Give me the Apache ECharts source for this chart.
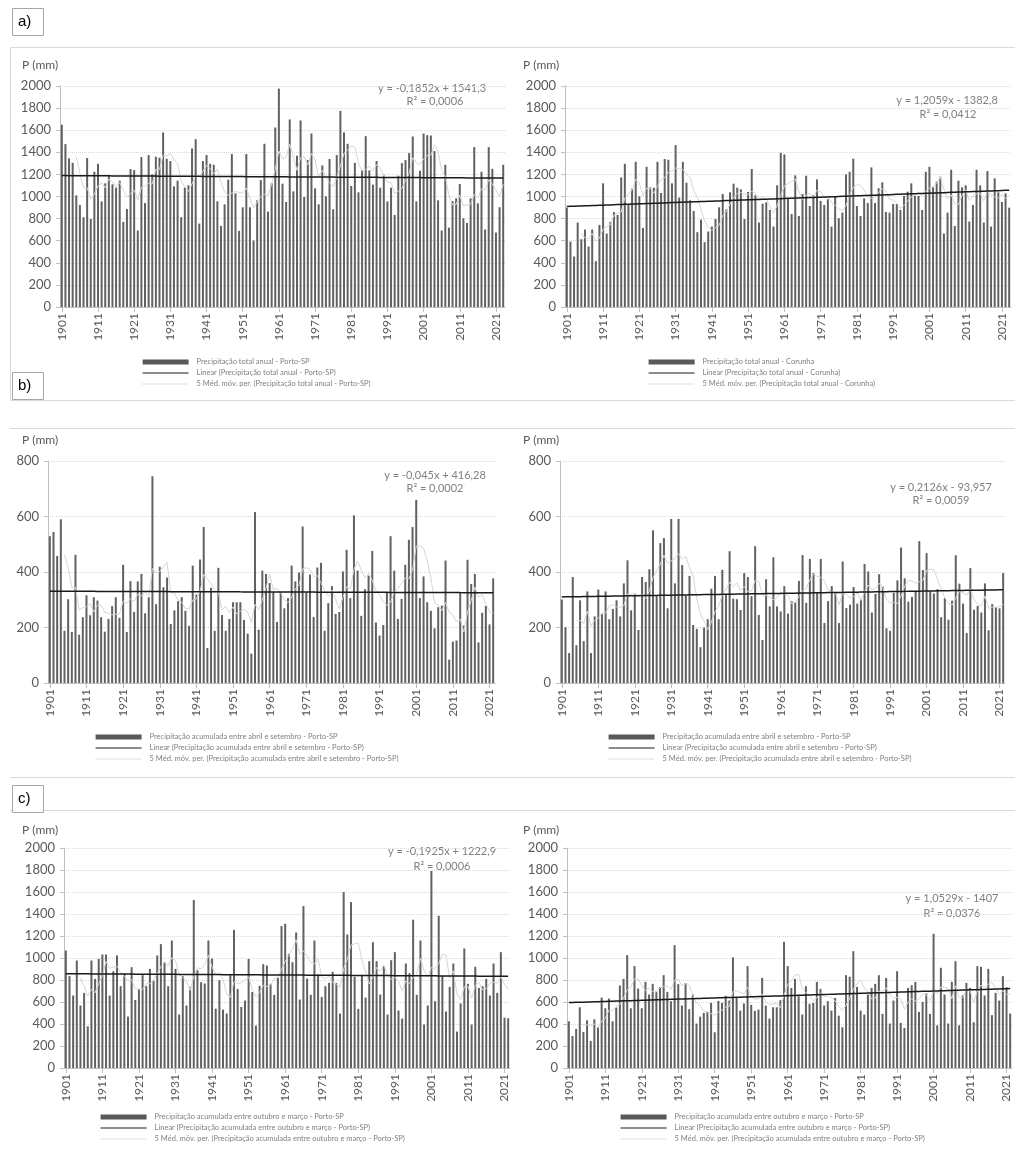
<!DOCTYPE html>
<html><head><meta charset="utf-8">
<script src="https://cdn.jsdelivr.net/npm/echarts@6/dist/echarts.min.js"></script>
<style>html,body{margin:0;padding:0;background:#fff}#c{width:1015px;height:1151px}</style>
</head><body><div id="c"></div>
<script>
// ---------- categories ----------
const yearsA = []; for (let y = 1901; y <= 2023; y++) yearsA.push(String(y));
const yearsB = []; for (let y = 1901; y <= 2022; y++) yearsB.push(String(y));

// ---------- series values (mm) ----------
const portoAnnual = [1650,1474,1345,1305,1010,923,812,1348,797,1224,1296,956,1119,1185,1110,1080,1143,770,887,1248,
1239,692,1357,941,1375,1200,1360,1351,1579,1342,1321,1092,1143,812,1080,1101,1435,1519,755,1321,
1375,1296,1287,956,734,929,1152,1384,1029,689,902,1384,902,602,965,1149,1477,863,1119,1624,
1976,1116,950,1697,1047,1369,1688,996,1330,1570,1074,929,1281,1002,1339,884,1375,1775,1579,1477,
1095,1305,1038,1239,1546,1236,1107,1321,1080,1191,956,1080,833,1188,1302,1330,1393,1543,956,1233,
1570,1555,1552,1411,965,692,1287,719,959,983,1113,803,761,983,1447,938,1224,701,1447,1251,
674,903,1287];
const corunhaAnnual = [899,592,457,764,614,701,547,701,415,743,1119,665,770,860,833,1173,1296,929,1071,1314,
1002,716,1269,1083,1080,1314,1032,1339,1333,1119,1465,990,1314,1125,966,869,677,791,587,683,
728,797,902,1023,884,1038,1116,1080,1065,797,1041,1248,1011,764,935,947,878,728,1101,1396,
1381,978,842,1191,824,1023,1188,914,1011,1155,960,923,975,728,1002,803,854,1200,1224,1342,
914,824,983,941,1263,941,1074,1128,860,854,932,932,878,1005,1044,1119,1005,1005,878,1224,
1269,1083,1134,1179,665,854,1242,734,1143,1083,1101,773,923,1242,1101,764,1230,728,1164,1038,
950,1029,899];
const portoAprSep = [529,544,458,590,188,302,184,462,174,237,316,244,309,297,237,185,231,277,309,235,
426,184,367,256,366,393,251,309,745,284,419,345,380,213,262,295,309,260,206,423,
319,445,562,126,343,188,415,245,188,231,291,291,291,227,178,106,616,192,405,393,
360,327,220,328,269,306,423,366,398,564,327,391,238,416,433,188,288,349,249,256,
402,480,306,604,405,242,338,387,476,218,171,209,327,529,405,231,303,426,516,562,
660,306,384,291,260,197,273,279,441,84,149,153,325,207,444,357,393,146,253,278,
211,377];
const corunhaAprSep = [301,201,108,382,136,298,151,330,108,240,337,248,330,230,267,298,240,359,442,262,
319,191,382,364,410,550,313,504,522,269,591,359,591,425,315,386,209,195,129,200,
230,340,386,230,408,317,475,304,302,263,396,382,313,493,245,155,374,276,453,276,
258,349,250,295,292,368,461,289,447,396,328,447,216,295,349,328,216,438,270,282,
346,286,303,429,402,254,321,392,347,197,188,325,370,488,377,293,310,331,511,407,
468,331,323,338,237,306,228,297,460,358,286,180,414,264,278,254,359,190,284,274,
269,396];
const portoOctMar = [1068,835,659,977,568,683,379,977,810,992,1032,1032,659,880,1023,744,859,467,917,619,
719,844,744,901,792,1023,1126,962,744,1159,901,486,835,568,738,1527,889,780,768,1159,
995,540,798,531,495,844,1256,719,555,613,992,692,385,747,944,932,765,665,819,1290,
1311,1038,962,1232,622,1472,813,665,1159,850,646,744,774,874,774,495,1599,1214,1508,829,
537,841,640,971,1144,971,668,926,486,980,1053,522,449,950,862,1348,665,1159,395,568,
1791,607,1384,835,513,737,950,331,586,1087,765,395,920,728,744,810,659,950,683,1053,
458,452];
const corunhaOctMar = [425,291,355,552,328,434,246,443,373,640,543,631,425,549,750,810,1026,543,926,722,
543,783,668,765,695,737,844,692,607,1117,762,568,771,534,668,404,467,501,510,592,
325,610,592,656,613,1005,640,522,586,926,574,519,531,819,568,449,552,552,616,1147,
926,728,810,653,486,744,583,592,783,719,568,607,522,637,476,370,844,829,1062,737,
522,486,668,728,765,844,492,819,404,613,880,410,364,728,753,783,510,601,677,492,
1220,388,911,668,404,783,971,388,662,774,728,416,926,920,659,901,480,683,613,835,
734,495];

// ---------- trend-line coefficients (as printed on the chart) ----------
const trendSlope = [-0.1852, 1.2059, -0.045, 0.2126, -0.1925, 1.0529];
const trendIntercept = [1541.3, -1382.8, 416.28, -93.957, 1222.9, -1407];
const trendText = ['y = -0,1852x + 1541,3','y = 1,2059x - 1382,8','y = -0,045x + 416,28','y = 0,2126x - 93,957','y = -0,1925x + 1222,9','y = 1,0529x - 1407'];
const r2Text = ['R² = 0,0006','R² = 0,0412','R² = 0,0002','R² = 0,0059','R² = 0,0006','R² = 0,0376'];

// ---------- legend names ----------
const seriesNames = [
 ['Precipitação total anual - Porto-SP','Linear (Precipitação total anual - Porto-SP)','5 Méd. móv. per. (Precipitação total anual - Porto-SP)'],
 ['Precipitação total anual - Corunha','Linear (Precipitação total anual - Corunha)','5 Méd. móv. per. (Precipitação total anual - Corunha)'],
 ['Precipitação acumulada entre abril e setembro - Porto-SP','Linear (Precipitação acumulada entre abril e setembro - Porto-SP)','5 Méd. móv. per. (Precipitação acumulada entre abril e setembro - Porto-SP)'],
 ['Precipitação acumulada entre abril e setembro - Porto-SP','Linear (Precipitação acumulada entre abril e setembro - Porto-SP)','5 Méd. móv. per. (Precipitação acumulada entre abril e setembro - Porto-SP)'],
 ['Precipitação acumulada entre outubro e março - Porto-SP','Linear (Precipitação acumulada entre outubro e março - Porto-SP)','5 Méd. móv. per. (Precipitação acumulada entre outubro e março - Porto-SP)'],
 ['Precipitação acumulada entre outubro e março - Porto-SP','Linear (Precipitação acumulada entre outubro e março - Porto-SP)','5 Méd. móv. per. (Precipitação acumulada entre outubro e março - Porto-SP)']
];

// ---------- layout ----------
const panels = [
 {values: portoAnnual,   cats: yearsA, max: 2000, grid:{left:60, top:86, width:445, height:221}, legend:{left:142, top:358}, eq:[432,88,435,101], pm:[22,65]},
 {values: corunhaAnnual, cats: yearsA, max: 2000, grid:{left:565,top:86, width:446, height:221}, legend:{left:648, top:358}, eq:[947,100,948,114], pm:[523,65]},
 {values: portoAprSep,   cats: yearsB, max: 800,  grid:{left:48, top:461, width:447, height:222}, legend:{left:95,  top:733}, eq:[435,475,435,488], pm:[22,440]},
 {values: corunhaAprSep, cats: yearsB, max: 800,  grid:{left:560,top:461, width:445, height:222}, legend:{left:608, top:733}, eq:[941,487,941,500], pm:[523,440]},
 {values: portoOctMar,   cats: yearsB, max: 2000, grid:{left:64, top:848, width:446, height:220}, legend:{left:100, top:1113}, eq:[442,851,442,866], pm:[22,830]},
 {values: corunhaOctMar, cats: yearsB, max: 2000, grid:{left:567,top:848, width:445, height:220}, legend:{left:620, top:1113}, eq:[952,898,952,913], pm:[523,830]}
];

function movingAverage(arr, n) {
  return arr.map((v, i) => i < n - 1 ? '-' : +(arr.slice(i - n + 1, i + 1).reduce((a, b) => a + b, 0) / n).toFixed(1));
}

const FONT = 'Lato, "Open Sans", sans-serif';
const TREND = '#1a1a1a', MA = '#d6d6d6';
const grid = [], xAxis = [], yAxis = [], series = [], legend = [], graphic = [];

panels.forEach((p, i) => {
  grid.push(Object.assign({containLabel:false}, p.grid));
  xAxis.push({
    type:'category', gridIndex:i, data:p.cats, boundaryGap:true,
    axisLine:{show:true, lineStyle:{color:'#bfbfbf', width:1}},
    axisTick:{show:true, interval:9, alignWithLabel:true, length:5, lineStyle:{color:'#bfbfbf'}},
    axisLabel:{interval:9, rotate:90, color:'#595959', fontSize:12, fontFamily:FONT, margin:6},
    splitLine:{show:false}
  });
  yAxis.push({
    type:'value', gridIndex:i, min:0, max:p.max, interval:200,
    axisLine:{show:true, lineStyle:{color:'#bfbfbf', width:1}},
    axisTick:{show:true, length:4, lineStyle:{color:'#bfbfbf'}},
    axisLabel:{color:'#595959', fontSize:13, fontFamily:FONT, margin:9, formatter: v => String(v)},
    splitLine:{show:true, lineStyle:{color:'#d9d9d9', type:'dotted', width:1}}
  });
  const names = seriesNames[i];
  series.push({
    type:'bar', name:names[0], xAxisIndex:i, yAxisIndex:i, data:p.values,
    barWidth:2, itemStyle:{color:'#616161'}, silent:true, animation:false
  });
  series.push({
    type:'line', name:names[2], xAxisIndex:i, yAxisIndex:i, data:movingAverage(p.values, 5),
    symbol:'none', itemStyle:{color:MA}, lineStyle:{color:MA, width:1}, silent:true, animation:false, z:3
  });
  series.push({
    type:'line', name:names[1], xAxisIndex:i, yAxisIndex:i,
    data:p.cats.map(y => +(trendSlope[i] * Number(y) + trendIntercept[i]).toFixed(2)),
    symbol:'none', itemStyle:{color:TREND}, lineStyle:{color:TREND, width:1.5}, silent:true, animation:false, z:4
  });
  legend.push({
    orient:'vertical', left:p.legend.left, top:p.legend.top, itemWidth:46, itemHeight:5, itemGap:3,
    selectedMode:false, padding:0,
    textStyle:{fontSize:7.5, color:'#808080', fontFamily:FONT, padding:[0,0,0,3]},
    data:[
      {name:names[0], icon:'rect', itemStyle:{color:'#595959'}},
      {name:names[1], itemStyle:{opacity:0}, lineStyle:{color:TREND, width:1.2}},
      {name:names[2], itemStyle:{opacity:0}, lineStyle:{color:'#bdbdbd', width:1, type:'dotted'}}
    ]
  });
  graphic.push({type:'text', x:p.eq[0], y:p.eq[1], style:{text:trendText[i], fill:'#808080', font:'11px '+FONT, align:'center', verticalAlign:'middle'}});
  graphic.push({type:'text', x:p.eq[2], y:p.eq[3], style:{text:r2Text[i], fill:'#808080', font:'11px '+FONT, align:'center', verticalAlign:'middle'}});
  graphic.push({type:'text', x:p.pm[0], y:p.pm[1], style:{text:'P (mm)', fill:'#595959', font:'12px '+FONT, verticalAlign:'middle'}});
});

// section frames and labels
const frames = [
  {type:'rect', shape:{x:10.5, y:47.5, width:1010, height:353}, style:{fill:'none', stroke:'#d9d9d9', lineWidth:1}, silent:true},
  {type:'line', shape:{x1:10, y1:428.5, x2:1015, y2:428.5}, style:{stroke:'#d9d9d9', lineWidth:1}, silent:true},
  {type:'line', shape:{x1:10, y1:777.5, x2:1015, y2:777.5}, style:{stroke:'#d9d9d9', lineWidth:1}, silent:true},
  {type:'line', shape:{x1:10, y1:810.5, x2:1015, y2:810.5}, style:{stroke:'#d9d9d9', lineWidth:1}, silent:true}
];
const tags = [['a)',12,8],['b)',12,372],['c)',12,785]];
tags.forEach(t => {
  frames.push({type:'rect', shape:{x:t[1]+0.5, y:t[2]+0.5, width:31, height:27}, style:{fill:'#fff', stroke:'#a6a6a6', lineWidth:1}, silent:true, z:10});
  frames.push({type:'text', x:t[1]+6, y:t[2]+14, style:{text:t[0], fill:'#000', font:'15px "Liberation Sans", Arial, sans-serif', verticalAlign:'middle'}, z:11});
});

const chart = echarts.init(document.getElementById('c'), null, {renderer:'canvas'});
chart.setOption({
  animation:false,
  backgroundColor:'#ffffff',
  grid, xAxis, yAxis, series, legend,
  graphic: frames.concat(graphic)
});
</script>
</body></html>
